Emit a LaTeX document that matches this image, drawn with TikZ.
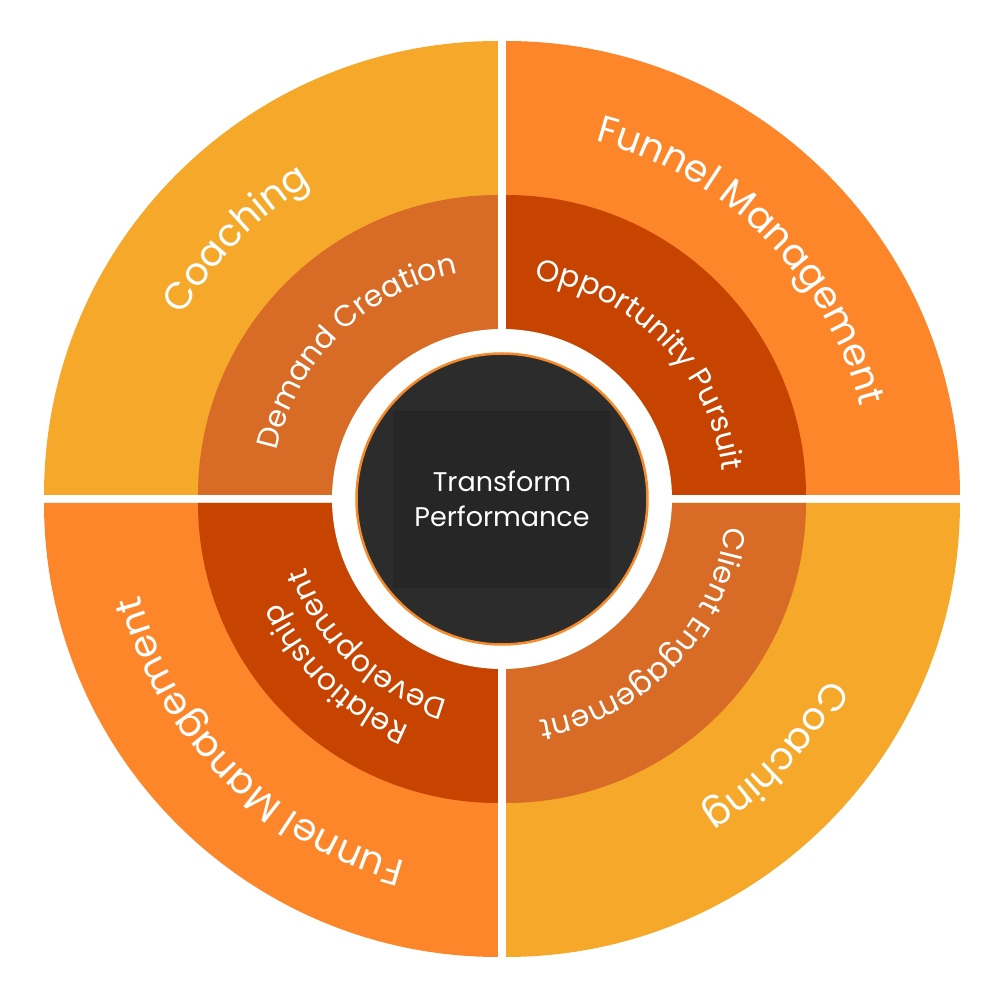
\documentclass[tikz,border=0pt]{standalone}
\usepackage{fontspec}
\newfontfamily\ringfont{Poppins}
\usetikzlibrary{decorations.text}
\definecolor{coach}{HTML}{F5A829}
\definecolor{funnel}{HTML}{FE862A}
\definecolor{midlight}{HTML}{D86B25}
\definecolor{middark}{HTML}{C74300}
\definecolor{core}{HTML}{2C2C2C}
\definecolor{corerect}{HTML}{262626}
\definecolor{rim}{HTML}{F58A2C}
\newcommand\outerfont{\fontsize{38}{40}\selectfont\ringfont}
\newcommand\midfont{\fontsize{30}{32}\selectfont\ringfont}
\tikzset{
  arctext/.style={decorate, decoration={text along path, text={#1}, text align=center, text color=white}},
  centertext/.style={text=white, font=\fontsize{27}{30}\selectfont\ringfont, anchor=base, inner sep=0pt}
}
\begin{document}
\begin{tikzpicture}[x=1pt,y=1pt]
\useasboundingbox (-502,-501) rectangle (502,499);
% outer quadrants
\fill[coach]  (-4,4)  -- (-458,4) arc[start angle=180,end angle=90,radius=454] -- cycle;
\fill[funnel] (4,4)   -- (4,458)  arc[start angle=90,end angle=0,radius=454] -- cycle;
\fill[funnel] (-4,-4) -- (-4,-458) arc[start angle=270,end angle=180,radius=454] -- cycle;
\fill[coach]  (4,-4)  -- (458,-4) arc[start angle=0,end angle=-90,radius=454] -- cycle;
% middle quadrants
\fill[midlight] (-4,4)  -- (-304,4) arc[start angle=180,end angle=90,radius=300] -- cycle;
\fill[middark]  (4,4)   -- (4,304)  arc[start angle=90,end angle=0,radius=300] -- cycle;
\fill[middark]  (-4,-4) -- (-4,-304) arc[start angle=270,end angle=180,radius=300] -- cycle;
\fill[midlight] (4,-4)  -- (304,-4) arc[start angle=0,end angle=-90,radius=300] -- cycle;
% centre
\fill[white] (0,0) circle[radius=170];
\fill[core] (0,0) circle[radius=145];
\fill[corerect] (-109,-89) rectangle (108,88);
\draw[rim, line width=2.5] (0,0) circle[radius=145.5];
\node[centertext] (t1) at (0,7) {Transform};
\node[centertext] (t2) at (0,-28) {Performance};
% outer ring labels
\path[arctext={|\outerfont|Coaching}] (180.65:368) arc[start angle=180.65, end angle=90.65, radius=368];
\path[arctext={|\outerfont|Funnel Management}] (89.9:370) arc[start angle=89.9, end angle=-0.1, radius=370];
\path[arctext={|\outerfont|Coaching}] (1.85:372) arc[start angle=1.85, end angle=-88.15, radius=372];
\path[arctext={|\outerfont|Funnel Management}] (270:375) arc[start angle=270, end angle=180, radius=375];
% middle ring labels
\path[arctext={|\midfont|Demand Creation}] (179.5:230) arc[start angle=179.5, end angle=89.5, radius=230];
\path[arctext={|\midfont|Opportunity Pursuit}] (89.45:222) arc[start angle=89.45, end angle=-0.55, radius=222];
\path[arctext={|\midfont|Client Engagement}] (1.25:225) arc[start angle=1.25, end angle=-88.75, radius=225];
\path[arctext={|\midfont|Relationship}] (271.35:245) arc[start angle=271.35, end angle=181.35, radius=245];
\path[arctext={|\midfont|Development}] (272:208) arc[start angle=272, end angle=182, radius=208];
\end{tikzpicture}
\end{document}
